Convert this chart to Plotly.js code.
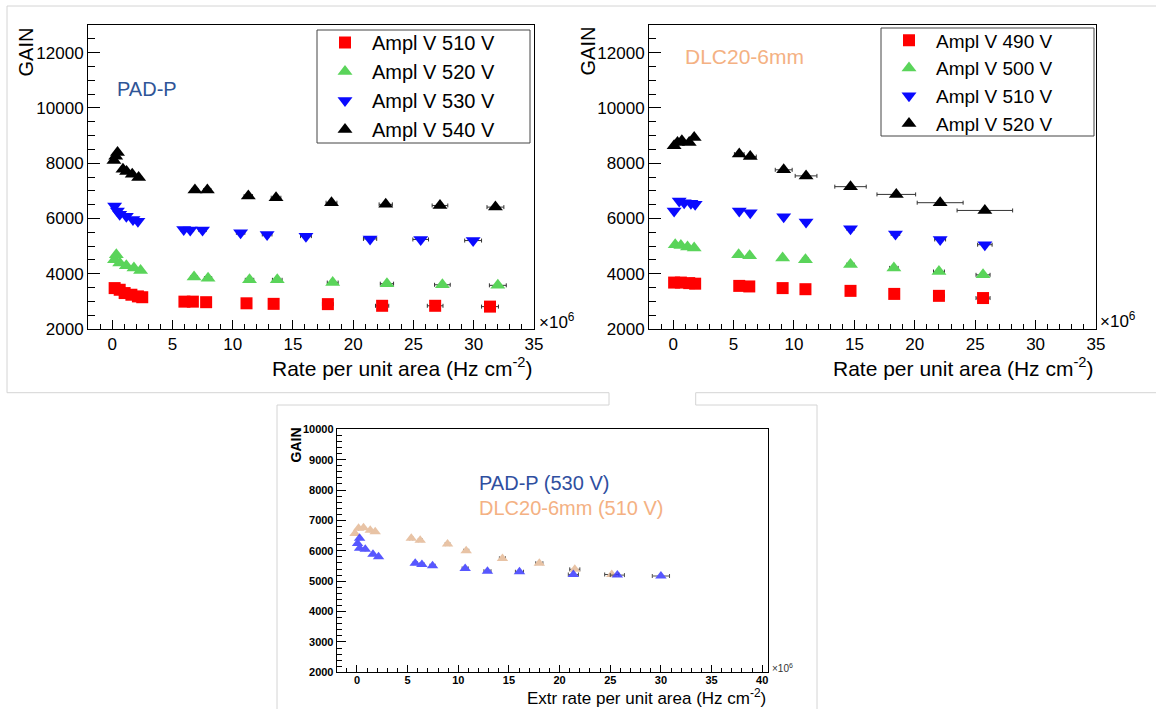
<!DOCTYPE html>
<html>
<head>
<meta charset="utf-8">
<script src="https://cdn.plot.ly/plotly-3.0.1.min.js"></script>
<style>html,body{margin:0;padding:0;background:#fff;}#chart{width:1156px;height:709px;}</style>
</head>
<body>
<div id="chart"></div>
<script>
// ---------- Data: PAD-P (top left) ----------
const padpLabels = ["Ampl V 510 V", "Ampl V 520 V", "Ampl V 530 V", "Ampl V 540 V"];
const padp510_x = [0.21, 0.63, 1.04, 1.6, 2.14, 2.5, 6.0, 6.7, 7.8, 11.15, 13.4, 17.9, 22.4, 26.8, 31.35];
const padp510_y = [3480, 3420, 3300, 3240, 3180, 3150, 2990, 2990, 2970, 2930, 2910, 2900, 2840, 2840, 2810];
const padp510_ex = [0.02, 0.03, 0.05, 0.08, 0.1, 0.12, 0.25, 0.28, 0.3, 0.35, 0.4, 0.45, 0.55, 0.65, 0.7];
const padp520_x = [0.2, 0.35, 0.63, 1.18, 1.81, 2.36, 6.8, 7.96, 11.4, 13.7, 18.3, 22.8, 27.4, 32.0];
const padp520_y = [4510, 4690, 4390, 4290, 4210, 4120, 3880, 3840, 3780, 3780, 3680, 3640, 3600, 3580];
const padp520_ex = [0.02, 0.03, 0.05, 0.08, 0.1, 0.12, 0.25, 0.3, 0.35, 0.4, 0.45, 0.55, 0.65, 0.7];
const padp530_x = [0.21, 0.44, 0.63, 1.18, 1.73, 2.14, 5.94, 6.48, 7.5, 10.66, 12.86, 16.08, 21.4, 25.6, 29.95];
const padp530_y = [6450, 6270, 6150, 6080, 5960, 5900, 5600, 5580, 5580, 5480, 5420, 5360, 5260, 5240, 5200];
const padp530_ex = [0.02, 0.03, 0.05, 0.08, 0.1, 0.12, 0.25, 0.28, 0.3, 0.35, 0.4, 0.45, 0.55, 0.65, 0.7];
const padp540_x = [0.15, 0.3, 0.45, 0.9, 1.2, 1.67, 2.2, 6.87, 7.9, 11.3, 13.6, 18.2, 22.7, 27.2, 31.8];
const padp540_y = [8100, 8250, 8390, 7780, 7700, 7600, 7480, 7030, 7030, 6810, 6750, 6570, 6510, 6470, 6410];
const padp540_ex = [0.02, 0.03, 0.04, 0.06, 0.08, 0.1, 0.12, 0.25, 0.3, 0.35, 0.4, 0.45, 0.55, 0.65, 0.7];

// ---------- Data: DLC20-6mm (top right) ----------
const dlcLabels = ["Ampl V 490 V", "Ampl V 500 V", "Ampl V 510 V", "Ampl V 520 V"];
const dlc490_x = [0.08, 0.64, 1.33, 1.82, 5.47, 6.3, 9.06, 10.95, 14.68, 18.3, 22.0, 25.65];
const dlc490_y = [3680, 3680, 3660, 3640, 3560, 3540, 3480, 3440, 3380, 3270, 3200, 3120];
const dlc490_ex = [0.02, 0.04, 0.06, 0.08, 0.15, 0.18, 0.22, 0.25, 0.3, 0.35, 0.45, 0.58];
const dlc500_x = [0.17, 0.64, 1.19, 1.74, 5.42, 6.33, 9.06, 10.95, 14.68, 18.27, 22.0, 25.65];
const dlc500_y = [5050, 5020, 4970, 4930, 4690, 4650, 4570, 4510, 4330, 4210, 4080, 3960];
const dlc500_ex = [0.02, 0.04, 0.06, 0.08, 0.15, 0.18, 0.22, 0.25, 0.3, 0.35, 0.45, 0.58];
const dlc510_x = [0.08, 0.5, 0.91, 1.47, 1.82, 5.47, 6.38, 9.15, 11.0, 14.68, 18.4, 22.1, 25.8];
const dlc510_y = [6270, 6630, 6570, 6550, 6510, 6270, 6210, 6060, 5870, 5630, 5440, 5240, 5050];
const dlc510_ex = [0.02, 0.03, 0.05, 0.07, 0.08, 0.15, 0.18, 0.22, 0.25, 0.3, 0.35, 0.45, 0.6];
const dlc520_x = [0.08, 0.36, 0.72, 1.33, 1.74, 5.47, 6.38, 9.15, 11.0, 14.68, 18.47, 22.1, 25.8];
const dlc520_y = [8630, 8750, 8810, 8750, 8930, 8330, 8240, 7760, 7540, 7150, 6870, 6570, 6290];
const dlc520_ex = [0.02, 0.05, 0.08, 0.12, 0.15, 0.4, 0.5, 0.7, 0.9, 1.3, 1.6, 1.9, 2.3];

// ---------- Data: comparison (bottom) ----------
const cmpLabels = ["PAD-P (530 V)", "DLC20-6mm (510 V)"];
const cmpPad_x = [0.06, 0.26, 0.26, 0.82, 1.58, 2.13, 5.75, 6.41, 7.46, 10.68, 12.88, 16.04, 21.36, 25.7, 30.0];
const cmpPad_y = [6240, 6410, 6080, 6050, 5890, 5800, 5590, 5550, 5510, 5420, 5330, 5310, 5220, 5200, 5170];
const cmpPad_ex = [0.02, 0.03, 0.03, 0.05, 0.08, 0.1, 0.2, 0.22, 0.25, 0.3, 0.35, 0.4, 0.5, 0.7, 0.85];
const cmpDlc_x = [-0.2, 0.16, 0.65, 1.31, 1.8, 5.36, 6.24, 8.94, 10.78, 14.36, 18.0, 21.5, 25.15];
const cmpDlc_y = [6570, 6740, 6760, 6680, 6630, 6410, 6350, 6220, 6000, 5750, 5590, 5390, 5220];
const cmpDlc_ex = [0.02, 0.03, 0.05, 0.07, 0.08, 0.15, 0.18, 0.22, 0.25, 0.3, 0.35, 0.5, 0.7];

// ---------- helpers ----------
const W = 1156, H = 709;
const px = v => v / W;
const py = v => 1 - v / H;
const FONT = 'Liberation Sans, Arial, Helvetica, sans-serif';
const PAD = '\u00a0\u00a0\u00a0\u00a0';

function series(x, y, ex, name, symbol, color, size, xa, ya, legend, showlegend, opacity) {
  return {
    type: 'scatter', mode: 'markers', x: x, y: y, name: name,
    xaxis: xa, yaxis: ya, legend: legend, showlegend: showlegend,
    marker: {symbol: symbol, color: color, size: size, line: {width: 0}},
    opacity: opacity || 1,
    error_x: {type: 'data', array: ex, visible: true, color: '#333', thickness: 1, width: 2},
    hoverinfo: 'x+y'
  };
}

const RED = '#ff0000', GREEN = '#5ad45a', BLUE = '#0a0aff', BLACK = '#000000';

const traces = [
  series(padp510_x, padp510_y, padp510_ex, padpLabels[0] + PAD, 'square', RED, 12, 'x', 'y', 'legend', true),
  series(padp520_x, padp520_y, padp520_ex, padpLabels[1] + PAD, 'triangle-up', GREEN, 13, 'x', 'y', 'legend', true),
  series(padp530_x, padp530_y, padp530_ex, padpLabels[2] + PAD, 'triangle-down', BLUE, 13, 'x', 'y', 'legend', true),
  series(padp540_x, padp540_y, padp540_ex, padpLabels[3] + PAD, 'triangle-up', BLACK, 13, 'x', 'y', 'legend', true),
  series(dlc490_x, dlc490_y, dlc490_ex, dlcLabels[0] + PAD, 'square', RED, 12, 'x2', 'y2', 'legend2', true),
  series(dlc500_x, dlc500_y, dlc500_ex, dlcLabels[1] + PAD, 'triangle-up', GREEN, 13, 'x2', 'y2', 'legend2', true),
  series(dlc510_x, dlc510_y, dlc510_ex, dlcLabels[2] + PAD, 'triangle-down', BLUE, 13, 'x2', 'y2', 'legend2', true),
  series(dlc520_x, dlc520_y, dlc520_ex, dlcLabels[3] + PAD, 'triangle-up', BLACK, 13, 'x2', 'y2', 'legend2', true),
  series(cmpDlc_x, cmpDlc_y, cmpDlc_ex, cmpLabels[1], 'triangle-up', '#e6bd9c', 10, 'x3', 'y3', 'legend', false, 0.9),
  series(cmpPad_x, cmpPad_y, cmpPad_ex, cmpLabels[0], 'triangle-up', '#3a3aff', 10, 'x3', 'y3', 'legend', false, 0.85)
];

function xAxis(dom, range, anchor, fontSize, bold, majLen, minLen, standoff) {
  return {
    domain: dom, range: range, anchor: anchor,
    showline: true, mirror: true, linecolor: '#000', linewidth: 1,
    ticks: 'inside', ticklen: majLen, tickwidth: 1, tickcolor: '#000',
    tick0: 0, dtick: 5, tickformat: 'd', ticklabelstandoff: standoff || 0,
    minor: {dtick: 1, ticklen: minLen, ticks: 'inside', tickcolor: '#000', tickwidth: 1},
    showgrid: false, zeroline: false, fixedrange: true,
    tickfont: {family: FONT, size: fontSize, color: '#000', weight: bold ? 'bold' : 'normal'}
  };
}
function yAxis(dom, range, anchor, dtick, minorDtick, fontSize, bold, majLen, minLen) {
  return {
    domain: dom, range: range, anchor: anchor,
    showline: true, mirror: true, linecolor: '#000', linewidth: 1,
    ticks: 'inside', ticklen: majLen, tickwidth: 1, tickcolor: '#000',
    tick0: 2000, dtick: dtick, tickformat: 'd',
    minor: {dtick: minorDtick, ticklen: minLen, ticks: 'inside', tickcolor: '#000', tickwidth: 1},
    showgrid: false, zeroline: false, fixedrange: true,
    tickfont: {family: FONT, size: fontSize, color: '#000', weight: bold ? 'bold' : 'normal'}
  };
}

function gline(x0, y0, x1, y1) {
  return {type: 'line', xref: 'paper', yref: 'paper', x0: px(x0), y0: py(y0), x1: px(x1), y1: py(y1),
          line: {color: '#d4d4d4', width: 1}};
}
function box(x0, y0, x1, y1) {
  return {type: 'rect', xref: 'paper', yref: 'paper', x0: px(x0), y0: py(y0), x1: px(x1), y1: py(y1),
          line: {color: '#444', width: 1}, fillcolor: 'rgba(0,0,0,0)', layer: 'above'};
}

function ann(text, x, y, opts) {
  return Object.assign({text: text, x: px(x), y: py(y), xref: 'paper', yref: 'paper',
    showarrow: false, xanchor: 'center', yanchor: 'middle',
    font: {family: FONT, size: 20, color: '#000'}}, opts || {});
}

const legendCommon = {xanchor: 'left', yanchor: 'top', bgcolor: 'rgba(0,0,0,0)',
  borderwidth: 0, itemwidth: 44, tracegroupgap: 0};

const layout = {
  width: W, height: H,
  margin: {l: 0, r: 0, t: 0, b: 0},
  paper_bgcolor: '#fff', plot_bgcolor: '#fff',
  font: {family: FONT, color: '#000'},
  xaxis: xAxis([px(88), px(534)], [-2, 35], 'y', 17, false, 9, 5, 0),
  yaxis: yAxis([py(329), py(25)], [2000, 13000], 'x', 2000, 500, 17, false, 12, 7),
  xaxis2: xAxis([px(649), px(1096)], [-2, 35], 'y2', 17, false, 9, 5, 0),
  yaxis2: yAxis([py(329), py(25)], [2000, 13000], 'x2', 2000, 500, 17, false, 12, 7),
  xaxis3: xAxis([px(336.7), px(768.3)], [-2, 40.6], 'y3', 11, true, 7, 4, -3),
  yaxis3: yAxis([py(672.3), py(429.3)], [2000, 10000], 'x3', 1000, 200, 11, true, 9, 5),
  legend: Object.assign({x: px(318), y: py(23), font: {family: FONT, size: 20, color: '#000'}}, legendCommon),
  legend2: Object.assign({x: px(882), y: py(21.5), font: {family: FONT, size: 19, color: '#000'}}, legendCommon),
  shapes: [
    gline(7, 6, 1156, 6),
    gline(7, 6, 7, 392.7),
    gline(7, 392.7, 609, 392.7),
    gline(609, 392.7, 609, 405),
    gline(277, 405, 609, 405),
    gline(277, 405, 277, 709),
    gline(695.7, 392.7, 1156, 392.7),
    gline(695.7, 392.7, 695.7, 405),
    gline(695.7, 405, 817, 405),
    gline(817, 405, 817, 709),
    box(317, 30, 530, 143),
    box(881, 28, 1094, 136)
  ],
  annotations: [
    ann('GAIN', 25, 51.5, {textangle: -90}),
    ann('PAD-P', 115, 89, {xanchor: 'left', font: {family: FONT, size: 20, color: '#2f5597'}}),
    ann('Rate per unit area (Hz cm<sup>-2</sup>)', 535, 367, {xanchor: 'right', font: {family: FONT, size: 21, color: '#000'}}),
    ann('×10<sup>6</sup>', 537, 321, {xanchor: 'left', font: {family: FONT, size: 17, color: '#000'}}),
    ann('GAIN', 587, 51.5, {textangle: -90}),
    ann('DLC20-6mm', 683, 57, {xanchor: 'left', font: {family: FONT, size: 21, color: '#f4b183'}}),
    ann('Rate per unit area (Hz cm<sup>-2</sup>)', 1096, 367, {xanchor: 'right', font: {family: FONT, size: 21, color: '#000'}}),
    ann('×10<sup>6</sup>', 1098, 320, {xanchor: 'left', font: {family: FONT, size: 17, color: '#000'}}),
    ann('GAIN', 295, 445.5, {textangle: -90, font: {family: FONT, size: 14, color: '#000', weight: 'bold'}}),
    ann('Extr rate per unit area (Hz cm<sup>-2</sup>)', 768, 696.7, {xanchor: 'right', font: {family: FONT, size: 17, color: '#000'}}),
    ann('×10<sup>6</sup>', 770, 668, {xanchor: 'left', font: {family: FONT, size: 10, color: '#333'}}),
    ann(cmpLabels[0], 477, 483, {xanchor: 'left', font: {family: FONT, size: 20, color: '#2f4f9f'}}),
    ann(cmpLabels[1], 477, 508, {xanchor: 'left', font: {family: FONT, size: 20, color: '#f4b183'}})
  ]
};

Plotly.newPlot('chart', traces, layout, {displayModeBar: false, staticPlot: true});
</script>
</body>
</html>
